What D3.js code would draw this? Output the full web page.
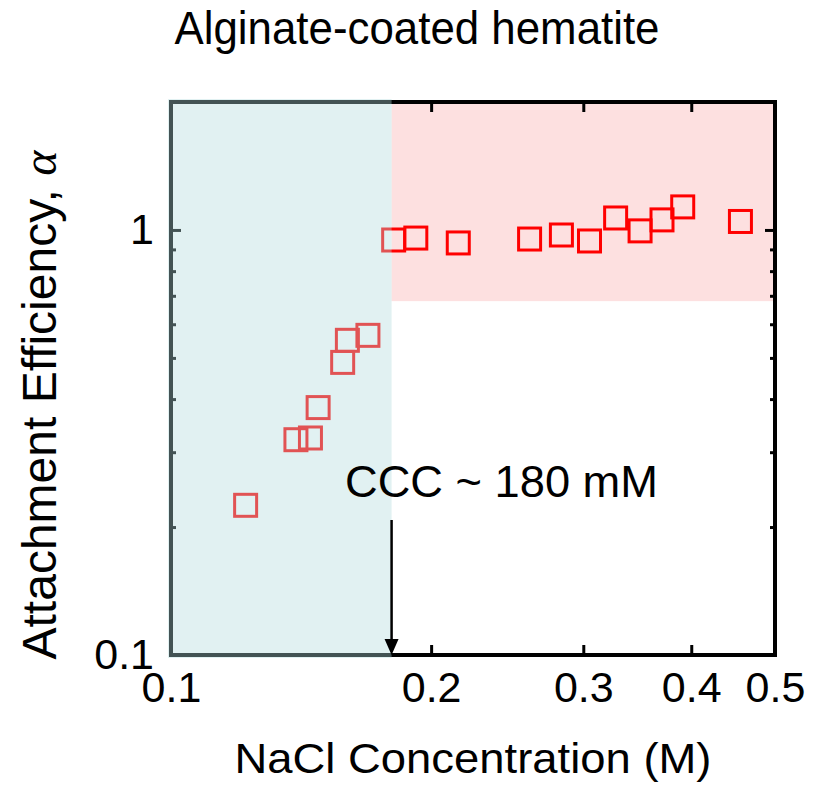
<!DOCTYPE html>
<html>
<head>
<meta charset="utf-8">
<script src="https://cdn.jsdelivr.net/npm/d3@7"></script>
<style>
  body { margin: 0; background: #fff; }
  text { font-family: "Liberation Sans", Arial, sans-serif; fill: #000; }
</style>
</head>
<body>
<div id="chart"></div>
<script>
var nacl  = [0.122, 0.1395, 0.145, 0.148, 0.158, 0.160, 0.169, 0.181, 0.192, 0.215, 0.260, 0.283, 0.305, 0.327, 0.349, 0.370, 0.391, 0.456]
var alpha = [0.225, 0.321, 0.324, 0.382, 0.488, 0.550, 0.565, 0.947, 0.957, 0.932, 0.952, 0.973, 0.942, 1.067, 0.995, 1.056, 1.133, 1.047]

var xTicks = [0.1, 0.2, 0.3, 0.4, 0.5]
var yTicks = [0.1, 1]
var yMinor = [0.2, 0.3, 0.4, 0.5, 0.6, 0.7, 0.8, 0.9]

var ccc = 0.18          // critical coagulation concentration (M)
var fastLow = 0.68      // lower edge of the fast-deposition band
var xDomain = [0.1, 0.5]
var yDomain = [0.1, 2]

var W = 813, H = 792
var margin = { top: 102, right: 38, bottom: 137, left: 171 }
var width = W - margin.left - margin.right,
    height = H - margin.top - margin.bottom

var svg = d3.select("#chart").append("svg")
  .attr("width", W)
  .attr("height", H)

var g = svg.append("g")
  .attr("transform", "translate(" + margin.left + "," + margin.top + ")")

var x = d3.scaleLog().domain(xDomain).range([0, width])
var y = d3.scaleLog().domain(yDomain).range([height, 0])

var data = nacl.map(function (d, i) { return { c: d, a: alpha[i] } })

// pink band (alpha ~ 1)
g.append("rect")
  .attr("x", x(ccc))
  .attr("y", 0)
  .attr("width", width - x(ccc))
  .attr("height", y(fastLow))
  .style("fill", "#fde0e0")

// axes
var fmt = function (d) { return d3.format("~g")(d) }

g.append("g")
  .attr("class", "axis axis--x")
  .attr("transform", "translate(0," + height + ")")
  .call(d3.axisBottom(x).tickValues(xTicks).tickFormat(fmt).tickSizeInner(-10).tickSizeOuter(0).tickPadding(16))

g.append("g")
  .attr("class", "axis axis--x2")
  .call(d3.axisTop(x).tickValues(xTicks).tickFormat("").tickSizeInner(-10).tickSizeOuter(0))

g.append("g")
  .attr("class", "axis axis--y")
  .call(d3.axisLeft(y).tickValues(yTicks).tickFormat(fmt).tickSizeInner(-10).tickSizeOuter(0).tickPadding(17))

g.append("g")
  .attr("class", "axis axis--y2")
  .attr("transform", "translate(" + width + ",0)")
  .call(d3.axisRight(y).tickValues(yTicks).tickFormat("").tickSizeInner(-10).tickSizeOuter(0))

g.append("g")
  .attr("class", "axis minor")
  .call(d3.axisLeft(y).tickValues(yMinor).tickFormat("").tickSizeInner(-5).tickSizeOuter(0))

g.append("g")
  .attr("class", "axis minor")
  .attr("transform", "translate(" + width + ",0)")
  .call(d3.axisRight(y).tickValues(yMinor).tickFormat("").tickSizeInner(-5).tickSizeOuter(0))

g.selectAll(".axis .domain").remove()
g.selectAll(".axis .tick line").style("stroke", "#000").style("stroke-width", 3)
g.selectAll(".axis .tick text")
  .style("font-size", "43px")
  .style("font-family", "Liberation Sans, Arial, sans-serif")

g.append("rect")
  .attr("width", width)
  .attr("height", height)
  .style("fill", "none")
  .style("stroke", "#000")
  .style("stroke-width", 4)

// data squares
var s = 22
g.append("g").selectAll("rect").data(data)
  .enter().append("rect")
    .attr("x", function (d) { return x(d.c) - s / 2 })
    .attr("y", function (d) { return y(d.a) - s / 2 })
    .attr("width", s)
    .attr("height", s)
    .style("fill", "none")
    .style("stroke", "#ff0000")
    .style("stroke-width", 3)

// cyan band (slow deposition), laid over the frame and markers
g.append("rect")
  .attr("x", -3)
  .attr("y", -3)
  .attr("width", x(ccc) + 3)
  .attr("height", height + 6)
  .style("fill", "rgb(176,218,221)")
  .style("opacity", 0.38)

// CCC arrow
g.append("line")
  .attr("x1", x(ccc)).attr("x2", x(ccc))
  .attr("y1", 418).attr("y2", height - 12)
  .style("stroke", "#000")
  .style("stroke-width", 2.5)

g.append("path")
  .attr("d", "M" + (x(ccc) - 7) + "," + (height - 16) + "L" + (x(ccc) + 7) + "," + (height - 16) + "L" + x(ccc) + "," + height + "Z")
  .style("fill", "#000")

g.append("text")
  .attr("x", 174)
  .attr("y", 395)
  .attr("textLength", 313)
  .attr("lengthAdjust", "spacingAndGlyphs")
  .style("font-size", "44px")
  .text("CCC ~ 180 mM")

// titles
svg.append("text")
  .attr("x", 417)
  .attr("y", 44)
  .attr("text-anchor", "middle")
  .attr("textLength", 485)
  .attr("lengthAdjust", "spacingAndGlyphs")
  .style("font-size", "47px")
  .text("Alginate-coated hematite")

svg.append("text")
  .attr("x", 473)
  .attr("y", 773)
  .attr("text-anchor", "middle")
  .attr("textLength", 477)
  .attr("lengthAdjust", "spacingAndGlyphs")
  .style("font-size", "43px")
  .text("NaCl Concentration (M)")

var yLab = svg.append("text")
  .attr("transform", "translate(56,405) rotate(-90)")
  .attr("text-anchor", "middle")
  .style("font-size", "48px")

yLab.append("tspan").text("Attachment Efficiency, ")
yLab.append("tspan")
  .style("font-family", "Liberation Serif, serif")
  .style("font-style", "italic")
  .text("\u03b1")
</script>
</body>
</html>
